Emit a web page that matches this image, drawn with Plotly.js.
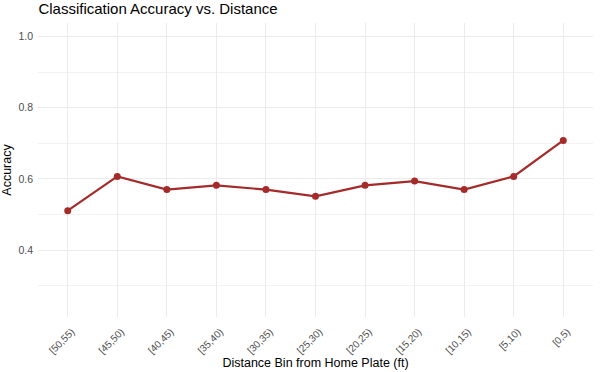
<!DOCTYPE html>
<html>
<head>
<meta charset="utf-8">
<script src="https://cdn.plot.ly/plotly-3.0.1.min.js"></script>
<style>html,body{margin:0;padding:0;background:#fff;}#chart{width:600px;height:372px;}</style>
</head>
<body>
<div id="chart"></div>
<script>
const distanceBins = ["[50,55)", "[45,50)", "[40,45)", "[35,40)", "[30,35)", "[25,30)", "[20,25)", "[15,20)", "[10,15)", "[5,10)", "[0,5)"];
const accuracy = [0.511, 0.607, 0.570, 0.582, 0.570, 0.551, 0.582, 0.594, 0.570, 0.607, 0.708];
const yTicks = [0.4, 0.6, 0.8, 1.0];
const yTickLabels = ["0.4", "0.6", "0.8", "1.0"];

const lineColor = "#a52a2a";
const font = "Liberation Sans, Arial, sans-serif";

const trace = {
  x: distanceBins,
  y: accuracy,
  type: "scatter",
  mode: "lines+markers",
  line: {color: lineColor, width: 2.2},
  marker: {color: lineColor, size: 7},
  hoverinfo: "x+y"
};

const layout = {
  width: 600,
  height: 372,
  margin: {l: 38, r: 7, t: 23, b: 55},
  paper_bgcolor: "#fff",
  plot_bgcolor: "#fff",
  showlegend: false,
  font: {family: font, color: "#000"},
  title: {
    text: "Classification Accuracy vs. Distance",
    font: {family: font, size: 15, color: "#000"},
    x: 0.064, xref: "container", xanchor: "left",
    y: 1, yref: "container", yanchor: "top", pad: {t: 3}
  },
  xaxis: {
    type: "category",
    categoryorder: "array",
    categoryarray: distanceBins,
    range: [-0.6, 10.6],
    showgrid: true,
    gridcolor: "#ebebeb",
    gridwidth: 1,
    zeroline: false,
    showline: false,
    ticks: "",
    tickangle: -45,
    ticklabelstandoff: 6,
    ticklabelshift: 4,
    tickfont: {family: font, size: 10, color: "#4d4d4d"},
    title: {text: "Distance Bin from Home Plate (ft)", font: {family: font, size: 12.5, color: "#000"}, standoff: 2},
    automargin: false,
    fixedrange: true
  },
  yaxis: {
    range: [0.2125, 1.0375],
    tickvals: yTicks,
    ticktext: yTickLabels,
    showgrid: true,
    gridcolor: "#ebebeb",
    gridwidth: 1,
    minor: {dtick: 0.1, tick0: 0.3, showgrid: true, gridcolor: "#f2f2f2", gridwidth: 1},
    zeroline: false,
    showline: false,
    ticks: "",
    ticklabelstandoff: 4,
    tickfont: {family: font, size: 10.5, color: "#4d4d4d"},
    title: {text: "Accuracy", font: {family: font, size: 12.5, color: "#000"}, standoff: 4},
    automargin: false,
    fixedrange: true
  }
};

Plotly.newPlot("chart", [trace], layout, {displayModeBar: false, staticPlot: true});
</script>
</body>
</html>
